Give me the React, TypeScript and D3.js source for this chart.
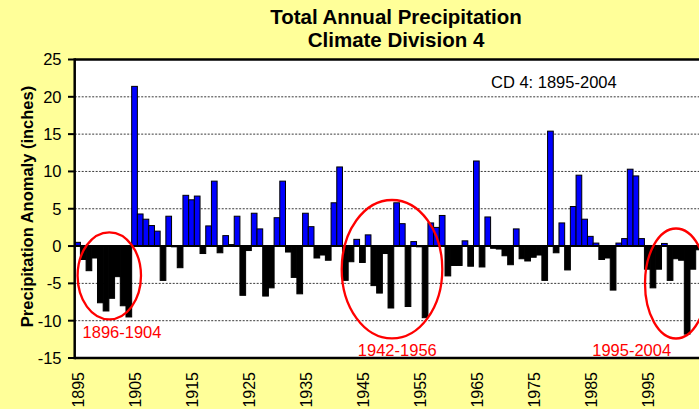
import React from "react";
import * as d3 from "d3";

const years: number[] = d3.range(1895, 2005);
const anomalies: number[] = [
  0.5, -1.8, -3.3, -1.6, -7.6, -8.7, -7.0, -4.1, -8.0, -9.5,
  21.4, 4.3, 3.6, 2.75, 2.0, -4.6, 4.0, -0.1, -2.9, 6.8,
  6.2, 6.7, -1.0, 2.7, 8.7, -0.9, 1.4, 0.2, 4.0, -6.6,
  -0.6, 4.4, 2.3, -6.7, -5.6, 3.8, 8.7, -0.8, -4.2, -6.4,
  4.4, 2.6, -1.6, -1.2, -1.9, 5.8, 10.6, -4.6, -2.1, 0.9,
  -2.2, 1.5, -5.3, -6.3, -1.0, -8.3, 5.8, 3.0, -8.1, 0.6,
  -0.1, -9.6, 3.1, 2.5, 4.1, -4.0, -2.6, -2.6, 0.7, -2.7,
  11.4, -2.8, 3.9, -0.3, -0.4, -1.3, -2.5, 2.3, -1.7, -2.0,
  -1.5, -1.2, -4.6, 15.4, -0.9, 3.1, -3.2, 5.3, 9.5, 3.6,
  1.3, 0.4, -1.8, -1.6, -5.9, 0.4, 1.0, 10.3, 9.4, 1.0,
  -3.1, -5.6, -3.1, 0.35, -4.6, -1.7, -1.9, -11.8, -3.1, -0.5,
];
const yTicks: number[] = [-15, -10, -5, 0, 5, 10, 15, 20, 25];
const xTickYears: number[] = [1895, 1905, 1915, 1925, 1935, 1945, 1955, 1965, 1975, 1985, 1995];
const titleLines: string[] = ["Total Annual Precipitation", "Climate Division 4"];
const yAxisTitle = "Precipitation Anomaly (inches)";
const noteText = "CD 4: 1895-2004";
const droughts = [
  { label: "1896-1904", start: 1896, end: 1904 },
  { label: "1942-1956", start: 1942, end: 1956 },
  { label: "1995-2004", start: 1995, end: 2004 },
];

const W = 699;
const H = 409;
const FONT = "'Liberation Sans', Arial, Helvetica, sans-serif";

export default function App() {
  const left = 74.7;
  const right = 701.4;
  const top = 59.5;
  const bottom = 358;

  const x = d3.scaleBand<number>().domain(years).range([left, right]).padding(0);
  const y = d3.scaleLinear().domain([-15, 25]).range([bottom, top]);
  const bw = x.bandwidth();
  const cx = (yr: number) => (x(yr) as number) + bw / 2;

  // ellipse geometry tied to the drought spans
  const ellipses = [
    { cx: 109.3, cy: 275.8, rx: 31.7, ry: 43.5, tx: 122, ty: 337.5 },
    { cx: 392, cy: 269.2, rx: 50.3, ry: 69.2, tx: 397.3, ty: 356 },
    { cx: 676, cy: 283.5, rx: 31, ry: 55, tx: 631.7, ty: 356 },
  ];

  return (
    <svg
      width={W}
      height={H}
      style={{ position: "absolute", left: 0, top: 0, display: "block" }}
      fontFamily={FONT}
    >
      <rect x={0} y={0} width={W} height={H} fill="#FFFF99" />
      <rect x={left} y={top} width={right - left} height={bottom - top} fill="#FFFFFF" />

      {/* gridlines */}
      {yTicks
        .filter((t) => t !== 0 && t !== 25 && t !== -15)
        .map((t) => (
          <line
            key={"g" + t}
            x1={left}
            x2={right}
            y1={y(t)}
            y2={y(t)}
            stroke="#3a3a3a"
            strokeWidth={1}
            strokeDasharray="2 1.5"
          />
        ))}

      {/* bars */}
      {years.map((yr, i) => {
        const v = anomalies[i];
        const y0 = y(0);
        const y1 = y(v);
        return (
          <rect
            key={"b" + yr}
            x={x(yr)}
            y={Math.min(y0, y1)}
            width={bw}
            height={Math.abs(y1 - y0)}
            fill={v >= 0 ? "#0000FF" : "#000000"}
            stroke="#000000"
            strokeWidth={1}
          />
        );
      })}

      {/* zero line */}
      <line x1={left} x2={right} y1={y(0)} y2={y(0)} stroke="#000" strokeWidth={2} />

      {/* frame */}
      <line x1={left} x2={right} y1={top} y2={top} stroke="#000" strokeWidth={2.5} />
      <line x1={left} x2={right} y1={bottom} y2={bottom} stroke="#000" strokeWidth={2.5} />
      <line x1={left} x2={left} y1={top - 1.2} y2={bottom + 1.2} stroke="#000" strokeWidth={2.5} />

      {/* y ticks and labels */}
      {yTicks.map((t) => (
        <g key={"yt" + t}>
          <line x1={68} x2={left} y1={y(t)} y2={y(t)} stroke="#000" strokeWidth={2} />
          <text
            x={61.5}
            y={y(t)}
            dy="0.36em"
            textAnchor="end"
            fontSize={16.5}
            fill="#000"
          >
            {t}
          </text>
        </g>
      ))}

      {/* x labels */}
      {xTickYears.map((yr) => (
        <text
          key={"xt" + yr}
          transform={`translate(${cx(yr) + 1},${372}) rotate(-90)`}
          textAnchor="end"
          dy="0.36em"
          fontSize={16}
          fill="#000"
        >
          {yr}
        </text>
      ))}

      {/* axis title */}
      <text
        transform={`translate(27.5,206.5) rotate(-90)`}
        textAnchor="middle"
        dy="0.36em"
        fontSize={16.5}
        fontWeight="bold"
        fill="#000"
      >
        {yAxisTitle}
      </text>

      {/* chart title */}
      {titleLines.map((line, i) => (
        <text
          key={"t" + i}
          x={396}
          y={24 + i * 23}
          textAnchor="middle"
          fontSize={20.5}
          fontWeight="bold"
          fill="#000"
        >
          {line}
        </text>
      ))}

      {/* note */}
      <text x={491} y={88} fontSize={16.5} fill="#000">
        {noteText}
      </text>

      {/* drought annotations */}
      {droughts.map((d, i) => {
        const e = ellipses[i];
        return (
          <g key={"d" + d.label}>
            <ellipse
              cx={e.cx}
              cy={e.cy}
              rx={e.rx}
              ry={e.ry}
              fill="none"
              stroke="#FF0000"
              strokeWidth={2.3}
            />
            <text x={e.tx} y={e.ty} textAnchor="middle" fontSize={16.5} fill="#FF0000">
              {d.label}
            </text>
          </g>
        );
      })}
    </svg>
  );
}
